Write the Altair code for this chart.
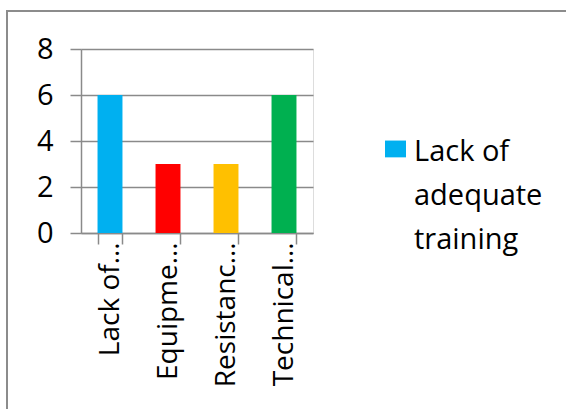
import altair as alt
import pandas as pd

categories = ["Lack of adequate training", "Equipment failure", "Resistance to change", "Technical problems"]
values = [6, 3, 3, 6]
tick_labels = ["Lack of…", "Equipme…", "Resistanc…", "Technical…"]
colors = ["#00B0F0", "#FF0000", "#FFC000", "#00B050"]
legend_entries = ["Lack of adequate training"]
legend_lines = ["Lack of", "adequate", "training"]

df = pd.DataFrame({"category": categories, "value": values})

label_map = "{" + ", ".join(f"'{c}': '{t}'" for c, t in zip(categories, tick_labels)) + "}"
legend_map = "{'" + legend_entries[0] + "': " + "[" + ", ".join(f"'{l}'" for l in legend_lines) + "]}"

FONT = "Open Sans"
GRID = "#8a8a8a"

bars = alt.Chart(df).mark_bar().encode(
    x=alt.X(
        "category:N",
        sort=categories,
        title=None,
        scale=alt.Scale(paddingInner=0.57, paddingOuter=0.285),
        axis=alt.Axis(
            labelAngle=-90,
            labelAlign="right",
            labelBaseline="middle",
            labelExpr=f"{label_map}[datum.value]",
            labelFont=FONT,
            labelFontSize=28,
            labelColor="#000000",
            labelPadding=-2,
            tickBand="extent",
            tickSize=11,
            tickColor=GRID,
            tickWidth=1.5,
            domainColor=GRID,
            domainWidth=1.5,
            grid=False,
            labelLimit=300,
        ),
    ),
    y=alt.Y(
        "value:Q",
        title=None,
        scale=alt.Scale(domain=[0, 8]),
        axis=alt.Axis(
            values=[0, 2, 4, 6, 8],
            labelFont=FONT,
            labelFontSize=29,
            labelColor="#000000",
            labelPadding=17,
            tickSize=11,
            tickColor=GRID,
            tickWidth=1.5,
            domainColor=GRID,
            domainWidth=1.5,
            grid=True,
            gridColor=GRID,
            gridWidth=1.5,
        ),
    ),
    color=alt.Color(
        "category:N",
        scale=alt.Scale(domain=categories, range=colors),
        legend=alt.Legend(
            values=legend_entries,
            title=None,
            orient="none",
            legendX=300,
            legendY=97,
            symbolType="M-1,-1.9H1V-0.3H-1Z",
            symbolSize=441,
            symbolStrokeWidth=0,
            labelFont=FONT,
            labelFontSize=29,
            labelColor="#000000",
            labelBaseline="alphabetic",
            labelExpr=f"{legend_map}[datum.value]",
            labelOffset=4,
            labelLimit=300,
        ),
    ),
)

frame = alt.Chart(df).mark_rect(fill=None, stroke="#8c8c8c", strokeWidth=2).encode(
    x=alt.value(-74), x2=alt.value(600), y=alt.value(-38), y2=alt.value(500)
)

chart = alt.layer(frame, bars).properties(
    width=232,
    height=184,
    autosize=alt.AutoSizeParams(type="none"),
    padding={"left": 81, "top": 49, "right": 253, "bottom": 176},
    background="white",
).configure_view(stroke=None).configure(
    style={"guide-label": {"lineHeight": 44}}
)

chart.save("out.html", embed_options={"renderer": "svg", "actions": False})
